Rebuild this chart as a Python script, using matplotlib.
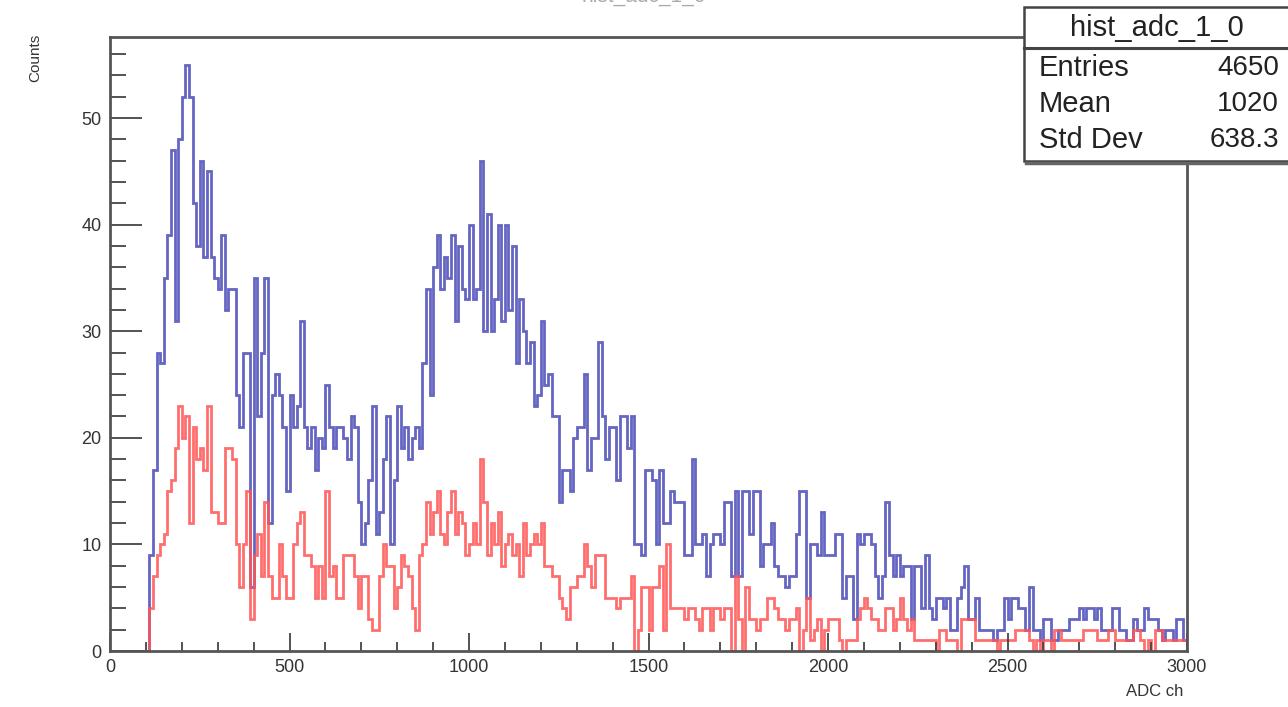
import matplotlib
matplotlib.use("Agg")
import matplotlib.pyplot as plt
import matplotlib.ticker as mticker
from matplotlib.patches import Rectangle
from matplotlib.lines import Line2D
import numpy as np

plt.rcParams["font.family"] = ["Liberation Sans", "DejaVu Sans"]

# ── data (counts per 10-channel bin, 0..3000) ────────────────────────────────

BIN_WIDTH = 10
X_MAX = 3000

blue_counts = [
    0, 0, 0, 0, 0, 0, 0, 0, 0, 0,
    0, 9, 17, 28, 27, 35, 39, 47, 31, 48,
    52, 55, 52, 42, 38, 46, 37, 45, 37, 35,
    34, 39, 32, 34, 34, 24, 21, 28, 28, 6,
    35, 22, 28, 35, 12, 24, 26, 24, 21, 15,
    24, 21, 23, 31, 21, 19, 21, 17, 20, 19,
    25, 21, 19, 21, 21, 20, 18, 22, 21, 14,
    10, 12, 16, 23, 11, 13, 18, 22, 10, 16,
    23, 19, 21, 18, 20, 21, 19, 27, 34, 24,
    36, 39, 34, 37, 35, 39, 31, 38, 34, 33,
    40, 33, 34, 46, 30, 41, 30, 33, 40, 31,
    40, 32, 38, 27, 33, 30, 27, 29, 23, 24,
    31, 25, 26, 22, 22, 14, 17, 17, 15, 20,
    21, 21, 26, 17, 20, 20, 29, 22, 18, 21,
    21, 16, 22, 22, 19, 22, 10, 10, 9, 17,
    17, 16, 10, 17, 12, 12, 15, 14, 14, 14,
    9, 9, 18, 10, 10, 11, 7, 10, 11, 11,
    10, 14, 14, 7, 15, 7, 15, 15, 11, 15,
    15, 8, 10, 10, 12, 8, 7, 7, 6, 7,
    7, 11, 15, 15, 5, 10, 10, 9, 13, 9,
    9, 9, 11, 11, 5, 7, 7, 3, 11, 10,
    11, 11, 10, 7, 5, 7, 14, 9, 7, 9,
    7, 8, 8, 3, 8, 8, 4, 9, 4, 3,
    5, 5, 4, 5, 2, 2, 5, 6, 8, 3,
    3, 5, 2, 2, 2, 2, 1, 2, 2, 5,
    3, 5, 5, 4, 4, 2, 6, 2, 2, 1,
    3, 3, 1, 1, 2, 2, 2, 3, 3, 3,
    4, 3, 4, 4, 3, 4, 2, 2, 2, 4,
    4, 2, 2, 1, 1, 3, 2, 2, 4, 3,
    3, 3, 2, 1, 2, 2, 1, 3, 3, 1,
]

red_counts = [
    0, 0, 0, 0, 0, 0, 0, 0, 0, 0,
    0, 4, 7, 9, 10, 11, 15, 16, 19, 23,
    20, 22, 12, 21, 18, 19, 17, 23, 13, 13,
    12, 12, 19, 19, 18, 10, 6, 10, 15, 3,
    9, 11, 7, 14, 7, 5, 5, 10, 7, 5,
    5, 10, 12, 13, 9, 9, 8, 5, 8, 5,
    15, 7, 8, 5, 5, 9, 9, 9, 7, 4,
    7, 7, 3, 2, 2, 7, 10, 8, 8, 4,
    6, 9, 8, 7, 4, 2, 9, 10, 14, 11,
    13, 15, 11, 10, 13, 15, 11, 13, 12, 9,
    10, 12, 10, 18, 14, 9, 12, 10, 13, 8,
    10, 11, 9, 10, 7, 12, 9, 10, 11, 10,
    12, 8, 8, 7, 7, 5, 4, 3, 6, 6,
    7, 7, 10, 8, 6, 9, 9, 9, 5, 5,
    5, 4, 5, 5, 5, 7, 0, 2, 6, 6,
    2, 6, 6, 8, 2, 10, 4, 4, 4, 4,
    3, 4, 4, 3, 2, 4, 4, 2, 4, 4,
    3, 4, 4, 0, 7, 3, 0, 6, 3, 3,
    2, 3, 3, 5, 5, 4, 3, 3, 2, 3,
    3, 4, 0, 2, 5, 1, 2, 3, 0, 2,
    3, 3, 3, 1, 0, 1, 1, 1, 3, 4,
    5, 4, 3, 3, 2, 2, 4, 4, 2, 3,
    5, 3, 2, 3, 1, 1, 1, 1, 1, 1,
    0, 2, 2, 1, 1, 1, 0, 3, 3, 3,
    3, 1, 1, 1, 1, 1, 1, 0, 1, 1,
    1, 1, 2, 2, 2, 2, 1, 0, 1, 0,
    1, 1, 0, 2, 2, 1, 1, 1, 1, 1,
    1, 2, 2, 2, 2, 1, 1, 1, 2, 2,
    1, 1, 1, 1, 1, 2, 2, 1, 0, 1,
    0, 2, 2, 1, 1, 1, 1, 1, 1, 1,
]

hist_name = "hist_adc_1_0"
stats_labels = ["Entries", "Mean", "Std Dev"]
stats_values = ["4650", "1020", "638.3"]

# ── figure ───────────────────────────────────────────────────────────────────

W, H = 1288, 707
fig = plt.figure(figsize=(W / 100, H / 100), dpi=100, facecolor="white")


def fx(px):
    return px / W


def fy(py):
    return 1 - py / H


ax = fig.add_axes([fx(110), fy(651), fx(1187) - fx(110), fy(37) - fy(651)])

edges = np.arange(0, X_MAX + BIN_WIDTH, BIN_WIDTH)
ax.stairs(blue_counts, edges, color="#4a4ab8", linewidth=2.0, alpha=0.85, baseline=0)
ax.stairs(red_counts, edges, color="#ff5555", linewidth=2.0, alpha=0.85, baseline=0)

ax.set_xlim(0, X_MAX)
ax.set_ylim(0, 57.6)

ax.xaxis.set_major_locator(mticker.MultipleLocator(500))
ax.xaxis.set_minor_locator(mticker.MultipleLocator(100))
ax.yaxis.set_major_locator(mticker.MultipleLocator(10))
ax.yaxis.set_minor_locator(mticker.MultipleLocator(2))

ax.tick_params(axis="x", which="major", direction="in", length=13, width=1.3,
               color="#444444", labelsize=13, pad=6)
ax.tick_params(axis="x", which="minor", direction="in", length=6.5, width=1.3,
               color="#444444")
ax.tick_params(axis="y", which="major", direction="in", length=23, width=1.3,
               color="#444444", labelsize=13, pad=6)
ax.tick_params(axis="y", which="minor", direction="in", length=11.5, width=1.3,
               color="#444444")
for lab in ax.get_xticklabels() + ax.get_yticklabels():
    lab.set_color("#333333")

for sp in ax.spines.values():
    sp.set_linewidth(2)
    sp.set_color("#555555")

fig.text(fx(35), fy(58), "Counts", rotation=90, ha="center", va="center",
         fontsize=11, color="#333333")
fig.text(fx(1183), fy(691), "ADC ch", ha="right", va="center",
         fontsize=12, color="#333333")

# title sits almost entirely above the canvas, only a sliver shows
fig.text(0.5, fy(2), hist_name, ha="center", va="baseline", fontsize=15,
         color="#aaaaaa")

# ── stats box ────────────────────────────────────────────────────────────────

box_l, box_r, box_t, box_b = 1024, 1300, 7, 161
fig.add_artist(Rectangle((fx(box_l), fy(box_b)), fx(box_r) - fx(box_l),
                         fy(box_t) - fy(box_b), transform=fig.transFigure,
                         facecolor="white", edgecolor="#444444", linewidth=1.8,
                         zorder=5))
fig.add_artist(Line2D([fx(box_l + 2), fx(box_r)], [fy(box_b + 2), fy(box_b + 2)],
                      transform=fig.transFigure, color="#666666", linewidth=2.5,
                      zorder=6))
fig.add_artist(Line2D([fx(box_l), fx(box_r)], [fy(48), fy(48)],
                      transform=fig.transFigure, color="#444444", linewidth=2.2,
                      zorder=6))

fig.text(fx(1157), fy(28), hist_name, ha="center", va="center", fontsize=21,
         color="#222222", zorder=7)
for i, (lab, val) in enumerate(zip(stats_labels, stats_values)):
    y = 68 + i * 36
    fig.text(fx(1039), fy(y), lab, ha="left", va="center", fontsize=21,
             color="#222222", zorder=7)
    fig.text(fx(1279), fy(y), val, ha="right", va="center", fontsize=20,
             color="#222222", zorder=7)

fig.savefig("out.png", dpi=100, facecolor="white")
